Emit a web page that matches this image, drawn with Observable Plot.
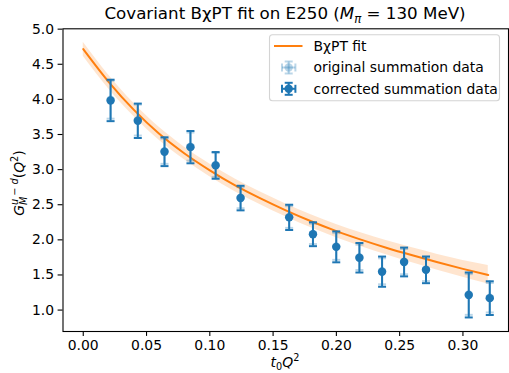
<!DOCTYPE html>
<html><head><meta charset="utf-8">
<script src="https://cdn.jsdelivr.net/npm/d3@7"></script>
<script src="https://cdn.jsdelivr.net/npm/@observablehq/plot@0.6"></script>
<style>
html,body{margin:0;padding:0;background:#fff;}
#chart svg{display:block;}
</style></head><body><div id="chart"></div>
<script>
// ---- data ----
const q2 = [0.0216, 0.0431, 0.0642, 0.0847, 0.1046, 0.1243, 0.1627, 0.1815, 0.1999, 0.2182, 0.2361, 0.2535, 0.2708, 0.3046, 0.3212];
const corrY   = [3.985, 3.695, 3.255, 3.32, 3.06, 2.595, 2.32, 2.08, 1.90, 1.745, 1.547, 1.685, 1.573, 1.215, 1.17];
const corrErr = [0.295, 0.245, 0.205, 0.23, 0.19, 0.175, 0.18, 0.17, 0.22, 0.21, 0.215, 0.205, 0.19, 0.32, 0.24];
const origY   = [3.995, 3.705, 3.262, 3.328, 3.066, 2.600, 2.325, 2.085, 1.905, 1.750, 1.552, 1.690, 1.578, 1.222, 1.176];
const origErr = [0.27, 0.22, 0.18, 0.20, 0.17, 0.15, 0.155, 0.145, 0.19, 0.18, 0.185, 0.18, 0.165, 0.29, 0.21];

const fitX  = [0, 0.02, 0.04, 0.06, 0.08, 0.10, 0.12, 0.14, 0.16, 0.18, 0.20, 0.22, 0.24, 0.26, 0.28, 0.30, 0.32];
const fitY  = [4.715, 4.25, 3.85, 3.51, 3.23, 2.99, 2.775, 2.59, 2.42, 2.265, 2.125, 2.0, 1.885, 1.78, 1.68, 1.587, 1.50];
const fitHi = [4.815, 4.347, 3.944, 3.602, 3.32, 3.08, 2.865, 2.68, 2.511, 2.358, 2.22, 2.098, 1.987, 1.887, 1.793, 1.707, 1.635];
const fitLo = [4.615, 4.153, 3.756, 3.418, 3.14, 2.90, 2.685, 2.50, 2.329, 2.172, 2.03, 1.902, 1.783, 1.673, 1.567, 1.467, 1.37];

const xTicks = [0, 0.05, 0.10, 0.15, 0.20, 0.25, 0.30];
const yTicks = [1.0, 1.5, 2.0, 2.5, 3.0, 3.5, 4.0, 4.5, 5.0];

const titleText = "Covariant BχPT fit on E250 (";
const legendLabels = ["BχPT fit", "original summation data", "corrected summation data"];

// ---- build tables ----
const corr = q2.map((x, i) => ({x, y: corrY[i], lo: corrY[i] - corrErr[i], hi: corrY[i] + corrErr[i]}));
const orig = q2.map((x, i) => ({x, y: origY[i], lo: origY[i] - origErr[i], hi: origY[i] + origErr[i]}));
const fit = fitX.map((x, i) => ({x, y: fitY[i], lo: fitLo[i], hi: fitHi[i]}));

const blue = "#1f77b4", orange = "#ff7f0e";
const FONT = "DejaVu Sans";
const FS = 13.9;
const LW = 2.0;
const capSymbol = {draw(ctx) { ctx.moveTo(-4, 0); ctx.lineTo(4, 0); }};

function errMarks(data, opacity) {
  return [
    Plot.ruleX(data, {x: "x", y1: "lo", y2: "hi", stroke: blue, strokeWidth: LW, strokeOpacity: opacity}),
    Plot.dot(data, {x: "x", y: "lo", symbol: capSymbol, stroke: blue, strokeWidth: LW, strokeOpacity: opacity, fill: "none"}),
    Plot.dot(data, {x: "x", y: "hi", symbol: capSymbol, stroke: blue, strokeWidth: LW, strokeOpacity: opacity, fill: "none"}),
    Plot.dot(data, {x: "x", y: "y", r: 4.2, fill: blue, fillOpacity: opacity, stroke: "none"})
  ];
}

const chart = Plot.plot({
  width: 509, height: 373,
  marginLeft: 62.5, marginRight: 1, marginTop: 28.3, marginBottom: 42,
  style: {fontFamily: FONT, fontSize: FS + "px", color: "black", background: "white", overflow: "visible"},
  x: {domain: [-0.016, 0.336]},
  y: {domain: [0.695, 5.005]},
  marks: [
    Plot.areaY(fit, {x: "x", y1: "lo", y2: "hi", fill: orange, fillOpacity: 0.2, curve: "monotone-x"}),
    Plot.line(fit, {x: "x", y: "y", stroke: orange, strokeWidth: LW, curve: "monotone-x"}),
    ...errMarks(orig, 0.3),
    ...errMarks(corr, 1),
    Plot.frame({stroke: "black", strokeWidth: 1.1}),
    Plot.axisX({ticks: xTicks, tickFormat: d3.format(".2f"), tickSize: 4.9, tickPadding: 4, label: null, fontSize: FS}),
    Plot.axisY({ticks: yTicks, tickFormat: d3.format(".1f"), tickSize: 4.9, tickPadding: 4, label: null, fontSize: FS})
  ]
});
document.getElementById("chart").appendChild(chart);

const svg = d3.select(chart);
svg.selectAll("g[aria-label='x-axis tick'] path, g[aria-label='y-axis tick'] path").attr("stroke-width", 1.1);

// rich text helper (sub/superscripts, italics)
function rich(parts, size, x, y, rotate = 0) {
  const g = svg.append("g").attr("transform", `translate(${x},${y}) rotate(${rotate})`)
    .attr("font-family", FONT).attr("fill", "black").attr("text-anchor", "start");
  const inner = g.append("g");
  let cx = 0, prevStart = 0;
  for (const p of parts) {
    const fs = p.script ? size * 0.7 : size;
    const dy = p.script === "sub" ? size * 0.22 : p.script === "sup" ? -size * 0.42 : 0;
    const px = p.stack ? prevStart : cx;
    const t = inner.append("text").attr("x", px).attr("y", dy).attr("font-size", fs)
      .attr("text-anchor", "start")
      .attr("font-style", p.italic ? "italic" : "normal").text(p.t);
    const w = t.node().getComputedTextLength();
    if (!p.stack) prevStart = px;
    cx = Math.max(cx, px + w);
  }
  inner.attr("transform", `translate(${-cx / 2},0)`);
}

// title
rich([{t: titleText}, {t: "M", italic: true}, {t: "π", italic: true, script: "sub"}, {t: " = 130 MeV)"}], 16.7, 285, 19);
// x label
rich([{t: "t", italic: true}, {t: "0", script: "sub"}, {t: "Q", italic: true}, {t: "2", script: "sup"}], FS, 285, 367);
// y label
rich([{t: "G", italic: true}, {t: "M", italic: true, script: "sub"}, {t: "u − d", italic: true, script: "sup", stack: true},
      {t: "("}, {t: "Q", italic: true}, {t: "2", script: "sup"}, {t: ")"}], FS, 24, 183, -90);

// legend
const lg = svg.append("g").attr("font-family", FONT).attr("font-size", FS).attr("text-anchor", "start");
lg.append("rect").attr("x", 269.5).attr("y", 34.7).attr("width", 230).attr("height", 66).attr("rx", 3)
  .attr("fill", "white").attr("fill-opacity", 0.8).attr("stroke", "#d4d4d4").attr("stroke-width", 1.1);
const rows = [46, 67.5, 88.8];
lg.append("line").attr("x1", 274).attr("x2", 302.5).attr("y1", rows[0]).attr("y2", rows[0]).attr("stroke", orange).attr("stroke-width", LW);
[[rows[1], 0.3], [rows[2], 1]].forEach(([cy, op]) => {
  const h = lg.append("g").attr("stroke", blue).attr("stroke-width", LW).attr("stroke-opacity", op);
  const cx = 288.7;
  h.append("line").attr("x1", cx - 6.7).attr("x2", cx + 6.7).attr("y1", cy).attr("y2", cy);
  h.append("line").attr("x1", cx - 6.7).attr("x2", cx - 6.7).attr("y1", cy - 4).attr("y2", cy + 4);
  h.append("line").attr("x1", cx + 6.7).attr("x2", cx + 6.7).attr("y1", cy - 4).attr("y2", cy + 4);
  h.append("line").attr("x1", cx).attr("x2", cx).attr("y1", cy - 6).attr("y2", cy + 6);
  h.append("line").attr("x1", cx - 4).attr("x2", cx + 4).attr("y1", cy - 6).attr("y2", cy - 6);
  h.append("line").attr("x1", cx - 4).attr("x2", cx + 4).attr("y1", cy + 6).attr("y2", cy + 6);
  lg.append("circle").attr("cx", cx).attr("cy", cy).attr("r", 4.2).attr("fill", blue).attr("fill-opacity", op);
});
legendLabels.forEach((t, i) => {
  lg.append("text").attr("x", 313.5).attr("y", rows[i]).attr("dy", "0.35em").attr("fill", "black").text(t);
});
</script></body></html>
